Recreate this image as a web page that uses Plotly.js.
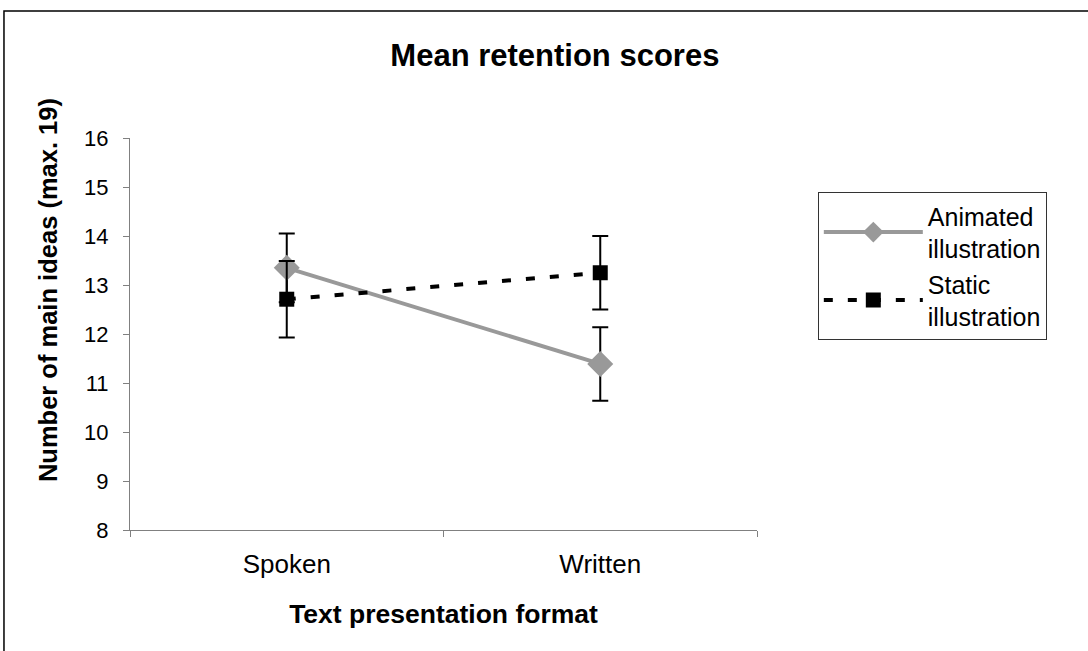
<!DOCTYPE html>
<html>
<head>
<meta charset="utf-8">
<script src="https://cdn.plot.ly/plotly-3.0.1.min.js"></script>
<style>
  html, body { margin: 0; padding: 0; background: #fff; }
  #chart { width: 1088px; height: 651px; }
</style>
</head>
<body>
<div id="chart"></div>
<script>
// ---- data ----
const categories = ["Spoken", "Written"];
const animatedMeans = [13.35, 11.39];
const animatedErrors = [0.70, 0.75];
const staticMeans = [12.71, 13.25];
const staticErrors = [0.78, 0.75];
const yTickValues = [8, 9, 10, 11, 12, 13, 14, 15, 16];
const seriesNames = ["Animated<br>illustration", "Static<br>illustration"];

const FONT = "Liberation Sans, Arial, sans-serif";

const traces = [
  {
    type: "scatter",
    mode: "lines+markers",
    name: seriesNames[0],
    x: categories,
    y: animatedMeans,
    line: { color: "#999999", width: 4 },
    marker: { symbol: "diamond", size: 20, color: "#999999" },
    error_y: { type: "data", array: animatedErrors, visible: true, color: "#000000", thickness: 2, width: 8 }
  },
  {
    type: "scatter",
    mode: "lines+markers",
    name: seriesNames[1],
    x: categories,
    y: staticMeans,
    line: { color: "#000000", width: 4, dash: "9px,15px" },
    marker: { symbol: "square", size: 15, color: "#000000" },
    error_y: { type: "data", array: staticErrors, visible: true, color: "#000000", thickness: 2, width: 8 }
  }
];

const layout = {
  width: 1088,
  height: 651,
  paper_bgcolor: "#ffffff",
  plot_bgcolor: "#ffffff",
  margin: { l: 130, r: 331, t: 138, b: 121 },
  font: { family: FONT, color: "#000000", size: 22 },
  title: {
    text: "<b>Mean retention scores</b>",
    font: { family: FONT, size: 31, color: "#000000" },
    xref: "container", yref: "container",
    x: 0.510, xanchor: "center",
    y: 0.9155, yanchor: "middle"
  },
  xaxis: {
    type: "category",
    range: [-0.5, 1.5],
    tickson: "boundaries",
    ticks: "outside",
    ticklen: 6,
    tickcolor: "#808080",
    showline: true,
    linecolor: "#808080",
    linewidth: 1,
    showgrid: false,
    zeroline: false,
    tickfont: { family: FONT, size: 26, color: "#000000" },
    ticklabelstandoff: 11,
    title: {
      text: "<b>Text presentation format</b>",
      font: { family: FONT, size: 26.5, color: "#000000" },
      standoff: 26
    },
    fixedrange: true
  },
  yaxis: {
    range: [8, 16],
    tickvals: yTickValues,
    ticktext: yTickValues.map(String),
    ticks: "outside",
    ticklen: 6,
    tickcolor: "#808080",
    showline: true,
    linecolor: "#808080",
    linewidth: 1,
    showgrid: false,
    zeroline: false,
    tickfont: { family: FONT, size: 22, color: "#000000" },
    ticklabelstandoff: 10,
    fixedrange: true
  },
  annotations: [
    {
      text: "<b>Number of main ideas (max. 19)</b>",
      xref: "paper", yref: "paper",
      x: -0.1308, y: 0.612,
      xanchor: "center", yanchor: "middle",
      textangle: -90,
      showarrow: false,
      font: { family: FONT, size: 25.5, color: "#000000" }
    }
  ],
  showlegend: true,
  legend: {
    x: 1.097, xanchor: "left",
    y: 0.862, yanchor: "top",
    bgcolor: "#ffffff",
    bordercolor: "#333333",
    borderwidth: 1,
    font: { family: FONT, size: 25, color: "#000000" },
    itemwidth: 99,
    tracegroupgap: 0
  },
  shapes: [
    {
      type: "rect", xref: "paper", yref: "paper",
      x0: -0.201, x1: 1.7, y0: -0.5, y1: 1.324,
      line: { color: "#000000", width: 1.5 },
      fillcolor: "rgba(0,0,0,0)",
      layer: "below"
    }
  ]
};

Plotly.newPlot("chart", traces, layout, { displayModeBar: false, staticPlot: true });
</script>
</body>
</html>
